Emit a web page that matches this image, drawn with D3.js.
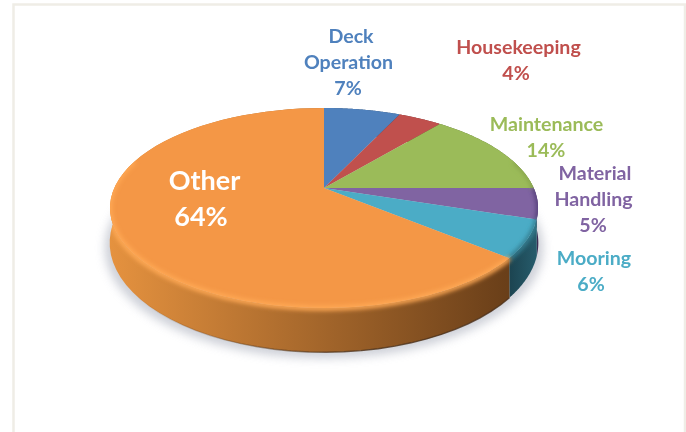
<!DOCTYPE html>
<html>
<head>
<meta charset="utf-8">
<style>
html,body{margin:0;padding:0;background:#fff}
svg{display:block}
text{font-family:Lato,"Open Sans",sans-serif;font-weight:700;text-anchor:middle}
</style>
<script src="https://cdnjs.cloudflare.com/ajax/libs/d3/7.8.5/d3.min.js"></script>
</head>
<body>
<svg id="chart" width="686" height="432"></svg>
<script>
// Share of incidents by activity
const categories = ["Deck Operation", "Housekeeping", "Maintenance", "Material Handling", "Mooring", "Other"];
const shares = [7, 4, 14, 5, 6, 64];
const labelRows = [["Deck", "Operation"], ["Housekeeping"], ["Maintenance"], ["Material", "Handling"], ["Mooring"], ["Other"]];

// Slice styling, in category order
const topColors = ["#4f81bd", "#c0504d", "#9bbb59", "#8064a2", "#4bacc6", "#f49746"];
const wallNear = ["#2c4a6e", "#70302e", "#5a6e34", "#3c2d52", "#265c6c", "#e5923f"];
const wallFar = ["#2c4a6e", "#70302e", "#5a6e34", "#2f2340", "#1b414d", "#6a3f19"];
const rimTones = ["#4f81bd", "#c0504d", "#8aa84e", "#55407a", "#357f92", "#ffa955"];
const labelColors = ["#4f81bd", "#c0504d", "#9bbb59", "#8064a2", "#4bacc6", "#ffffff"];

// Centre x and vertical middle of every text row, per category
const labelAnchors = [
  [[351, 36], [348.5, 62], [348, 88]],
  [[518.5, 47], [516, 73]],
  [[546.5, 124], [546, 150]],
  [[595, 173], [593.5, 199], [593, 225]],
  [[594, 258], [591, 284]],
  [[204.5, 181], [201, 217]]
];

const svg = d3.select("#chart");
const defs = svg.append("defs");

// Perspective disc: the near edge of the circle is drawn larger than the far edge
const tilt = 0.2;
const cx = 324;
const topDisc = {y: 188, rx: 209.7, ry: 96};
const baseDisc = {y: 221, rx: 210, ry: 105};
const project = (disc, a, grow = 1) => {
  const s = 1 / (1 + tilt * Math.cos(a));
  return [cx + disc.rx * grow * Math.sin(a) * s, disc.y - disc.ry * grow * Math.cos(a) * s];
};
const sweep = (a0, a1) => d3.range(0, 61).map(i => a0 + (a1 - a0) * i / 60);
const line = d3.line();

const slices = d3.pie().sort(null).value(d => d)(shares);

const blur = (id, amount) => defs.append("filter").attr("id", id)
  .attr("filterUnits", "userSpaceOnUse").attr("x", 0).attr("y", 0).attr("width", 686).attr("height", 432)
  .append("feGaussianBlur").attr("stdDeviation", amount);
blur("shadowBlur", 5);
blur("rimBlur", 2);
blur("edgeBlur", 0.6);
blur("textSoft", 0.25);

// Silhouette of the solid: keeps the bevel from bleeding onto the page
const silhouette = defs.append("clipPath").attr("id", "solid");
silhouette.append("path").attr("d", line(sweep(0, 2 * Math.PI).map(a => project(topDisc, a))) + "Z");

// Page frame, open at the bottom
svg.append("path")
  .attr("d", "M13.5,432V4.5H685V432")
  .attr("fill", "none").attr("stroke", "#efede6").attr("stroke-width", 2.5);

// Soft ground shadow beneath the disc
svg.append("path")
  .attr("d", line(sweep(0, 2 * Math.PI).map(a => project({y: baseDisc.y + 5, rx: baseDisc.rx + 5, ry: baseDisc.ry + 1}, a))) + "Z")
  .attr("fill", "#c6c9d2").attr("opacity", 0.85).attr("filter", "url(#shadowBlur)");

// Outer wall of each slice
const wall = svg.append("g");
slices.forEach((d, i) => {
  const grad = defs.append("linearGradient").attr("id", `wall${i}`)
    .attr("gradientUnits", "userSpaceOnUse")
    .attr("x1", i === 5 ? 110 : 537).attr("x2", 506).attr("y1", 0).attr("y2", 0);
  grad.append("stop").attr("offset", 0).attr("stop-color", wallNear[i]);
  grad.append("stop").attr("offset", 1).attr("stop-color", wallFar[i]);
  const angles = sweep(d.startAngle, d.endAngle);
  const outline = line(angles.map(a => project(topDisc, a))
    .concat(angles.slice().reverse().map(a => project(baseDisc, a)))) + "Z";
  wall.append("path").attr("d", outline).attr("fill", `url(#wall${i})`);
  silhouette.append("path").attr("d", outline);
});

// Dark contact line where the wall meets the ground, fading toward the lit side
const contact = defs.append("linearGradient").attr("id", "contact")
  .attr("gradientUnits", "userSpaceOnUse").attr("x1", 130).attr("x2", 360).attr("y1", 0).attr("y2", 0);
contact.append("stop").attr("offset", 0).attr("stop-color", "#5c3a1c").attr("stop-opacity", 0);
contact.append("stop").attr("offset", 1).attr("stop-color", "#4a2f18").attr("stop-opacity", 0.8);
const orange = slices[5];
svg.append("path")
  .attr("d", line(sweep(orange.startAngle, orange.endAngle).filter(a => Math.cos(a) < 0.2).map(a => project(baseDisc, a))))
  .attr("fill", "none").attr("stroke", "url(#contact)").attr("stroke-width", 1.4).attr("filter", "url(#edgeBlur)");

// Flat top face of each slice
const faces = svg.append("g");
slices.forEach((d, i) => {
  const angles = sweep(d.startAngle, d.endAngle);
  const outline = [[cx, topDisc.y]].concat(angles.map(a => project(topDisc, a)));
  faces.append("path").attr("d", line(outline) + "Z").attr("fill", topColors[i]);
});

// Bevel: a soft band straddling the edge between face and wall on the near half of the disc
const bevel = svg.append("g").attr("clip-path", "url(#solid)");
slices.forEach((d, i) => {
  const nearAngles = sweep(d.startAngle, d.endAngle).filter(a => Math.cos(a) < 0.3);
  if (nearAngles.length < 2) return;
  bevel.append("path")
    .attr("d", line(nearAngles.map(a => project(topDisc, a, 1.002))))
    .attr("fill", "none").attr("stroke", rimTones[i]).attr("stroke-width", 5).attr("filter", "url(#rimBlur)");
});

// Category and percentage labels
const labels = svg.append("g").attr("filter", "url(#textSoft)");
slices.forEach((d, i) => {
  const big = categories[i] === "Other";
  labelRows[i].concat(`${d.data}%`).forEach((row, j) => {
    const [lx, ly] = labelAnchors[i][j];
    labels.append("text")
      .attr("x", lx).attr("y", ly + (big ? 9 : 6.5))
      .attr("fill", labelColors[i]).attr("font-size", big ? 27 : 19.6)
      .text(row);
  });
});
</script>
</body>
</html>
